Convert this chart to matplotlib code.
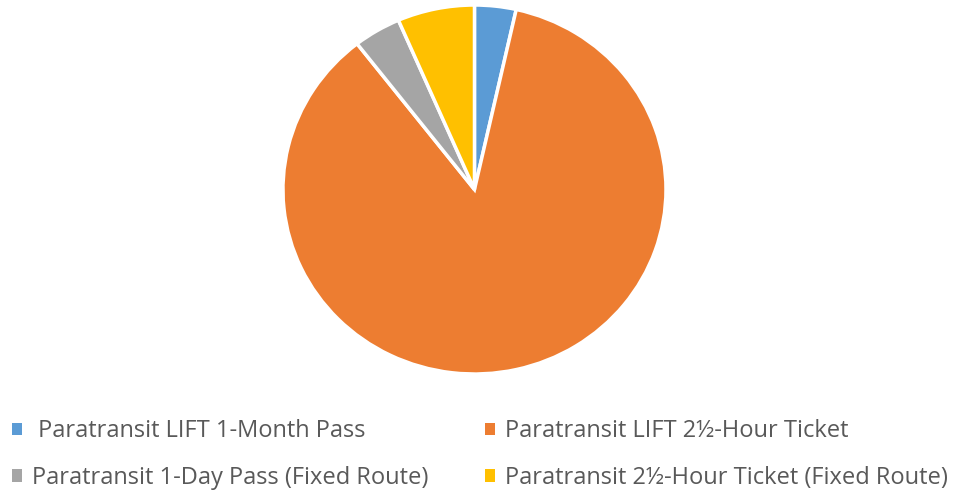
import matplotlib.pyplot as plt

labels = [' Paratransit LIFT 1-Month Pass',
          'Paratransit LIFT 2½-Hour Ticket',
          'Paratransit 1-Day Pass (Fixed Route)',
          'Paratransit 2½-Hour Ticket (Fixed Route)']
shares = [3.5, 86.0, 4.0, 6.5]
colors = ['#5b9bd5', '#ed7d31', '#a5a5a5', '#ffc000']

plt.rcParams['font.family'] = ['Open Sans', 'DejaVu Sans']

fig = plt.figure(figsize=(9.54, 4.92), dpi=100)
ax = fig.add_axes([0.2966, 0.2398, 0.4015, 0.75])

wedges, _ = ax.pie(shares, colors=colors, startangle=90, counterclock=False,
                   wedgeprops=dict(edgecolor='white', linewidth=2.5))
ax.set_aspect('auto')
ax.set_xlim(-1.0, 1.0)
ax.set_ylim(-1.0, 1.0)

# legend order: row-wise, 2 columns
order = [0, 2, 1, 3]
leg = fig.legend([wedges[i] for i in order], [labels[i] for i in order],
                 ncol=2, loc='lower left', bbox_to_anchor=(0.0005, -0.02),
                 frameon=False, fontsize=17, handlelength=0.42, handleheight=0.42,
                 handletextpad=0.43, columnspacing=2.4, labelspacing=0.97,
                 borderpad=0, labelcolor='#595959')
for h in leg.legend_handles:
    h.set_edgecolor('none')

fig.savefig('out.png', dpi=100)
